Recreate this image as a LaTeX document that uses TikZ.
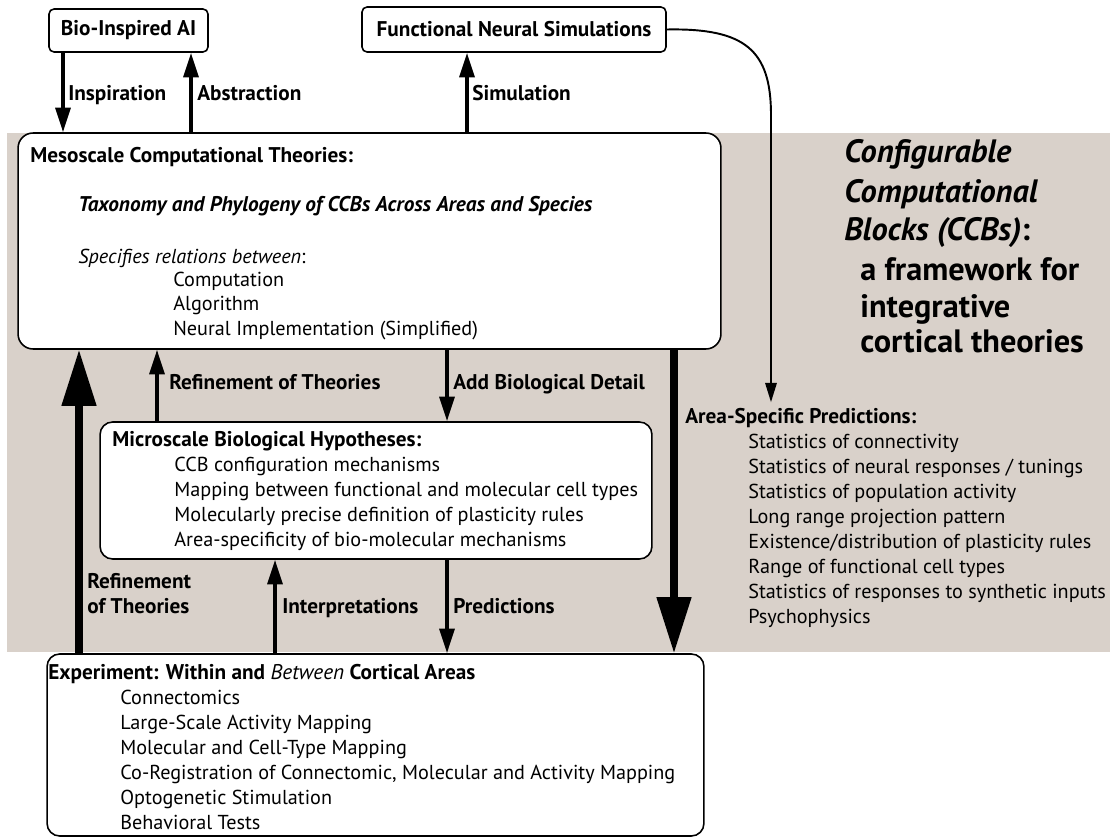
\documentclass[tikz,border=0pt]{standalone}
\usepackage{fontspec}
\setmainfont{PT Sans}
\usepackage{tikz}
\usetikzlibrary{arrows.meta}

\begin{document}
\begin{tikzpicture}[x=0.02cm,y=-0.02cm]
        \definecolor{ccb-bg}{RGB}{217,209,202}
        \tikzset{>={Triangle[length=14pt,width=8.5pt]}}
        \tikzset{box/.style={draw=black,fill=white,line width=0.9pt,inner sep=0pt,align=center,font=\fontsize{12.1}{14}\selectfont\bfseries}}
        \tikzset{txt/.style={anchor=base west,inner sep=0pt,font=\fontsize{11.5}{14}\selectfont}}
        \tikzset{head/.style={txt,font=\fontsize{12.1}{14}\selectfont\bfseries}}
        \tikzset{lbl/.style={anchor=base west,inner sep=0pt,align=left,font=\fontsize{12.1}{14.2}\selectfont\bfseries}}
        \tikzset{ttl/.style={anchor=base west,inner sep=0pt,font=\fontsize{18.4}{20}\selectfont\bfseries}}
        \tikzset{flow/.style={->,line width=2pt}}
        \tikzset{bigflow/.style={-{Triangle[length=32pt,width=19pt]},line width=4pt}}
        \tikzset{thinflow/.style={-{Triangle[length=11pt,width=6.5pt]},line width=1.1pt}}

        \useasboundingbox (0,0) rectangle (1110,838);
        \fill [ccb-bg] (7,133) rectangle (1110,652);

        \node [box, rounded corners=0.1cm, minimum width=3.18cm, minimum height=0.86cm] (bio) at (128.5,30.5) {Bio-Inspired AI};
        \node [box, rounded corners=0.1cm, minimum width=6.08cm, minimum height=0.9cm] (fns) at (514,29.5) {Functional Neural Simulations};
        \node [box, rounded corners=0.3cm, minimum width=14.06cm, minimum height=4.32cm] (meso) at (369.5,241) {};
        \node [box, rounded corners=0.25cm, minimum width=11.04cm, minimum height=2.74cm] (micro) at (376,490.5) {};
        \node [box, rounded corners=0.25cm, minimum width=13.14cm, minimum height=3.64cm] (expt) at (375.5,745) {};

        \node [head] (mesohead) at (30,163) {Mesoscale Computational Theories:};
        \node [head] (taxo) at (78,212) {\textit{Taxonomy and Phylogeny of CCBs Across Areas and Species}};
        \node [txt] (spec) at (78,263) {\textit{Specifies relations between}:};
        \node [txt] (comp) at (173,286) {Computation};
        \node [txt] (algo) at (173,311) {Algorithm};
        \node [txt] (impl) at (173,336) {Neural Implementation (Simplified)};

        \node [head] (microhead) at (112,446) {Microscale Biological Hypotheses:};
        \node [txt] (mic1) at (174,471) {CCB configuration mechanisms};
        \node [txt] (mic2) at (174,496) {Mapping between functional and molecular cell types};
        \node [txt] (mic3) at (174,521) {Molecularly precise definition of plasticity rules};
        \node [txt] (mic4) at (174,546) {Area-specificity of bio-molecular mechanisms};

        \node [head] (expthead) at (48,679) {Experiment: Within and \textmd{\textit{Between}} Cortical Areas};
        \node [txt] (exp1) at (120,704) {Connectomics};
        \node [txt] (exp2) at (120,729) {Large-Scale Activity Mapping};
        \node [txt] (exp3) at (120,754) {Molecular and Cell-Type Mapping};
        \node [txt] (exp4) at (120,779) {Co-Registration of Connectomic, Molecular and Activity Mapping};
        \node [txt] (exp5) at (120,804) {Optogenetic Stimulation};
        \node [txt] (exp6) at (120,829) {Behavioral Tests};

        \node [head] (areahead) at (685,423) {Area-Specific Predictions:};
        \node [txt] (area1) at (748,448) {Statistics of connectivity};
        \node [txt] (area2) at (748,473) {Statistics of neural responses / tunings};
        \node [txt] (area3) at (748,498) {Statistics of population activity};
        \node [txt] (area4) at (748,523) {Long range projection pattern};
        \node [txt] (area5) at (748,548) {Existence/distribution of plasticity rules};
        \node [txt] (area6) at (748,573) {Range of functional cell types};
        \node [txt] (area7) at (748,598) {Statistics of responses to synthetic inputs};
        \node [txt] (area8) at (748,623) {Psychophysics};

        \node [ttl] (ttl1) at (844,163) {\textit{Configurable}};
        \node [ttl] (ttl2) at (844,203) {\textit{Computational}};
        \node [ttl] (ttl3) at (844,240) {\textit{Blocks (CCBs)}:};
        \node [ttl] (ttl4) at (860,280) {a framework for};
        \node [ttl] (ttl5) at (860,317) {integrative};
        \node [ttl] (ttl6) at (860,352) {cortical theories};

        \node [lbl] (insp) at (68,101) {Inspiration};
        \node [lbl] (abst) at (197,101) {Abstraction};
        \node [lbl] (simu) at (472,101) {Simulation};
        \node [lbl] (refine) at (169,389) {Refinement of Theories};
        \node [lbl] (detail) at (453,389) {Add Biological Detail};
        \node [lbl] (refine2) at (87,613) {Refinement\\of Theories};
        \node [lbl] (interp) at (282,613) {Interpretations};
        \node [lbl] (pred) at (453,613) {Predictions};

        \draw [flow] (63,0 |- bio.south) -- (63,0 |- meso.north);
        \draw [flow] (191,0 |- meso.north) -- (191,0 |- bio.south);
        \draw [flow] (467,0 |- meso.north) -- (467,0 |- fns.south);
        \draw [flow] (157,0 |- micro.north) -- (157,0 |- meso.south);
        \draw [flow] (447,0 |- meso.south) -- (447,0 |- micro.north);
        \draw [flow] (275,0 |- expt.north) -- (275,0 |- micro.south);
        \draw [flow] (447,0 |- micro.south) -- (447,0 |- expt.north);
        \draw [bigflow] (79,0 |- expt.north) -- (79,0 |- meso.south);
        \draw [bigflow] (674,0 |- meso.south) -- (674,0 |- expt.north);
        \draw [thinflow] (fns.east) .. controls (745,28) and (771,50) .. (771,115) -- ([yshift=3pt]771,0 |- areahead.north);
\end{tikzpicture}
\end{document}
